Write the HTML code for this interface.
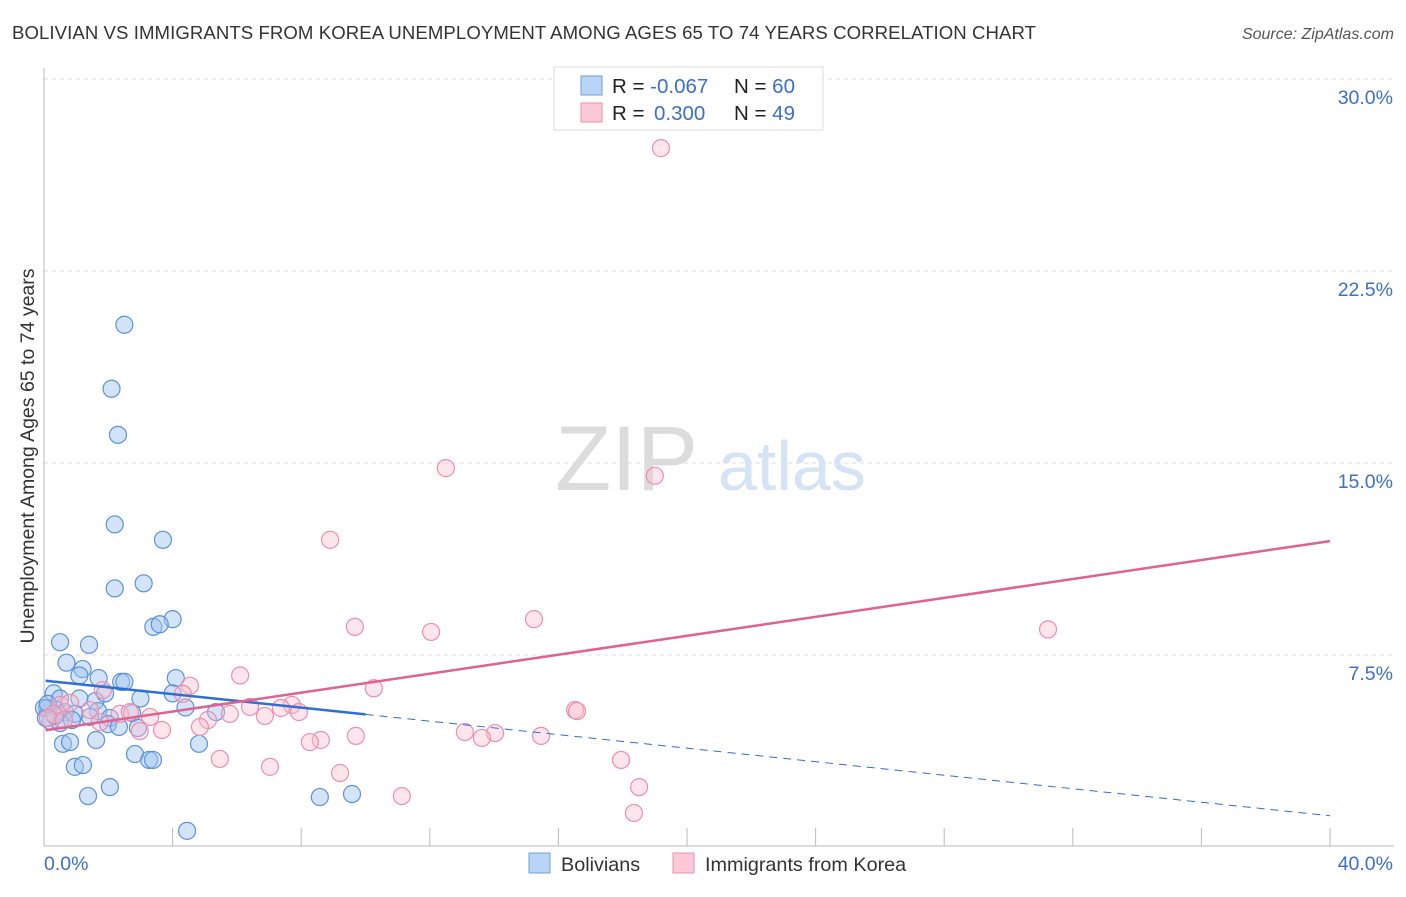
<!DOCTYPE html>
<html><head><meta charset="utf-8"><style>
body{margin:0;background:#fff;font-family:"Liberation Sans",sans-serif}
svg text{font-family:"Liberation Sans",sans-serif}
</style></head><body>
<svg width="1406" height="892" viewBox="0 0 1406 892">
<text x="12" y="39" font-size="18.6" fill="#333" textLength="1024">BOLIVIAN VS IMMIGRANTS FROM KOREA UNEMPLOYMENT AMONG AGES 65 TO 74 YEARS CORRELATION CHART</text>
<text x="1394" y="39" font-size="16" fill="#555" text-anchor="end" font-style="italic">Source: ZipAtlas.com</text>
<g id="grid"></g>
<g>
<text x="555" y="490" font-size="92" fill="#dcdcdc" font-family="Liberation Serif">ZIP</text>
<text x="718" y="490" font-size="70" fill="#d4e3f5">atlas</text>
</g>
<g id="axes"></g>
<g id="pts"></g>
<g id="trends"></g>
<text x="34" y="456" font-size="19.5" fill="#333" text-anchor="middle" transform="rotate(-90 34 456)">Unemployment Among Ages 65 to 74 years</text>
<g>
<rect x="554" y="67" width="269" height="63" fill="#fff" stroke="#ddd"/>
<rect x="581" y="76" width="21" height="19" fill="#b9d4f4" stroke="#6fa0e0"/>
<rect x="581" y="103" width="21" height="19" fill="#fbc9d7" stroke="#ec90ad"/>
<text x="612" y="93" font-size="20.5" fill="#222">R = <tspan fill="#3a70c9">-0.067</tspan><tspan x="734">N = </tspan><tspan fill="#3a70c9">60</tspan></text>
<text x="612" y="120" font-size="20.5" fill="#222">R = <tspan fill="#3a70c9" x="654">0.300</tspan><tspan x="734">N = </tspan><tspan fill="#3a70c9">49</tspan></text>
</g>
<g>
<rect x="529" y="853" width="21" height="20" fill="#b9d4f4" stroke="#6fa0e0"/>
<text x="561" y="871" font-size="19.8" fill="#333">Bolivians</text>
<rect x="673" y="853" width="21" height="20" fill="#fbc9d7" stroke="#ec90ad"/>
<text x="705" y="871" font-size="19.8" fill="#333">Immigrants from Korea</text>
</g>
</svg>
<script>
const yTicks=[7.5,15,22.5,30];
const yTickLabels=["7.5%","15.0%","22.5%","30.0%"];
const xTickLabels=["0.0%","40.0%"];
const bolX=[2.5,2.1,2.3,2.2,3.7,3.1,2.2,4.0,3.4,3.6,0.5,1.4,0.7,1.2,1.1,1.7,2.4,2.5,4.1,4.0,4.4,0.3,0.5,1.1,1.6,1.9,3.0,0.1,0.4,0.65,0.96,1.68,2.05,2.74,5.35,0.2,0.5,0.87,1.43,1.99,2.33,2.92,0.59,0.81,1.62,4.82,0.96,1.21,2.83,3.27,3.39,1.37,2.05,4.45,8.58,9.58,0.0,0.06,0.34,0.12];
const bolY=[20.4,17.9,16.1,12.6,12.0,10.3,10.1,8.9,8.6,8.7,8.0,7.9,7.2,6.95,6.7,6.6,6.45,6.45,6.6,6.0,5.45,6.0,5.8,5.8,5.7,6.0,5.8,5.43,5.35,5.27,5.2,5.31,5.04,5.23,5.27,4.92,4.84,4.96,5.08,4.8,4.69,4.65,4.03,4.1,4.18,4.03,3.13,3.2,3.63,3.4,3.4,1.99,2.34,0.63,1.95,2.07,5.43,5.04,5.12,5.59];
const korX=[19.19,12.5,19.0,8.9,15.24,9.67,12.04,31.23,6.1,10.26,4.54,4.32,1.83,6.41,7.71,7.37,7.93,6.87,5.78,5.1,2.36,3.3,2.67,16.52,16.58,0.5,0.81,1.43,0.31,0.12,1.74,2.98,3.67,4.85,13.09,14.03,13.62,15.46,9.7,8.61,8.27,5.47,17.95,7.03,9.21,18.51,11.13,18.35,0.62];
const korY=[27.3,14.8,14.5,12.0,8.9,8.6,8.4,8.5,6.7,6.2,6.3,5.98,6.13,5.47,5.55,5.43,5.27,5.12,5.2,4.96,5.2,5.08,5.27,5.35,5.31,5.55,5.63,5.35,5.2,5.04,4.88,4.53,4.57,4.69,4.49,4.45,4.26,4.34,4.34,4.18,4.1,3.44,3.4,3.13,2.89,2.34,1.99,1.33,4.96];
const bolTrend=[6.5,-0.132];   // intercept %, slope per %
const korTrend=[4.55,0.185];
const bolSolidEnd=10;
const X=v=>44+v*32.15, Y=v=>847-v*25.6;
const NS="http://www.w3.org/2000/svg";
function mk(p,t,a){const e=document.createElementNS(NS,t);for(const k in a)e.setAttribute(k,a[k]);p.appendChild(e);return e;}
const grid=document.getElementById('grid'),axes=document.getElementById('axes');
yTicks.forEach((t,i)=>{
 const l=mk(grid,'line',{x1:44,x2:1394,y1:Y(t),y2:Y(t),stroke:'#ddd','stroke-dasharray':'4,4'});
 
 
 const tx=mk(axes,'text',{x:1393,y:Y(t)+25,'font-size':19.5,fill:'#3a70c9','text-anchor':'end'});
 tx.textContent=yTickLabels[i];
 
 
});
mk(axes,'line',{x1:44,x2:44,y1:68,y2:846,stroke:'#bbb'});
mk(axes,'line',{x1:44,x2:1394,y1:846,y2:846,stroke:'#bbb'});
for(let i=1;i<=10;i++){const tk=mk(axes,'line',{x1:X(i*4),x2:X(i*4),y1:828,y2:846,stroke:'#bbb'});
 
 }
const a=mk(axes,'text',{x:44,y:870,'font-size':19.5,fill:'#3a70c9'});a.textContent=xTickLabels[0];


const b=mk(axes,'text',{x:1393,y:870,'font-size':19.5,fill:'#3a70c9','text-anchor':'end'});b.textContent=xTickLabels[1];


const pts=document.getElementById('pts');
bolX.forEach((x,i)=>{const c=mk(pts,'circle',{cx:X(x),cy:Y(bolY[i]),r:8.5,fill:'rgba(160,196,240,0.45)',stroke:'#5b92dc','stroke-width':1.2});
 
 });
korX.forEach((x,i)=>{const c=mk(pts,'circle',{cx:X(x),cy:Y(korY[i]),r:8.5,fill:'rgba(250,190,208,0.4)',stroke:'#ec8fae','stroke-width':1.2});
 
 });
const tr=document.getElementById('trends');
const f=(t,x)=>t[0]+t[1]*x;
let l1=mk(tr,'line',{x1:X(0.05),y1:Y(f(bolTrend,0.05)),x2:X(bolSolidEnd),y2:Y(f(bolTrend,bolSolidEnd)),stroke:'#2c6fd6','stroke-width':2.5});


let l2=mk(tr,'line',{x1:X(bolSolidEnd),y1:Y(f(bolTrend,bolSolidEnd)),x2:X(40),y2:Y(f(bolTrend,40)),stroke:'#2c6fd6','stroke-width':1,'stroke-dasharray':'8,6'});


let l3=mk(tr,'line',{x1:X(0.05),y1:Y(f(korTrend,0.05)),x2:X(40),y2:Y(f(korTrend,40)),stroke:'#e0628e','stroke-width':2.5});


</script>
</body></html>
